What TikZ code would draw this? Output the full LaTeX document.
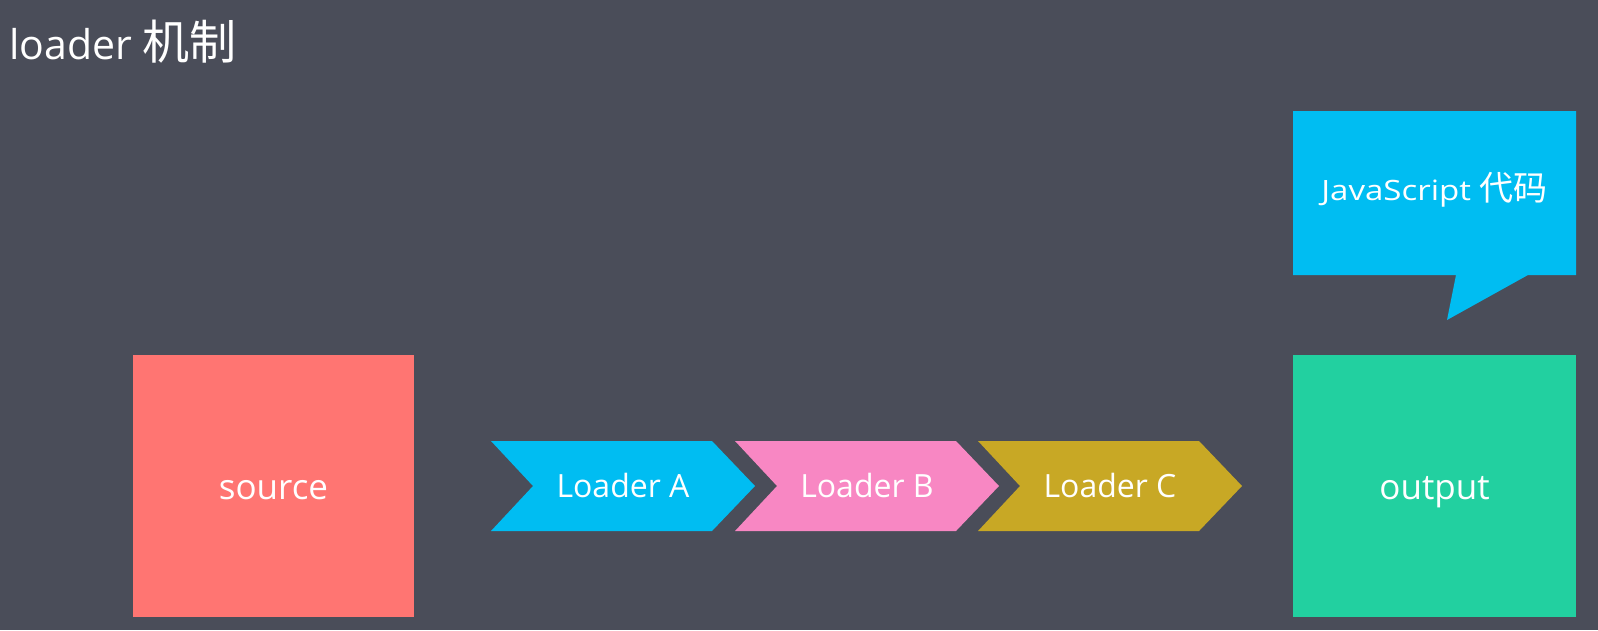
\documentclass[tikz,border=0pt]{standalone}
\usepackage{fontspec}
\setmainfont{Open Sans}
\newfontfamily\cjk{Noto Sans CJK SC}
\newfontfamily\jsfont[FakeStretch=1.18]{Open Sans}
\definecolor{bgcol}{RGB}{74,77,89}
\definecolor{srccol}{RGB}{255,117,114}
\definecolor{outcol}{RGB}{34,208,160}
\definecolor{bluecol}{RGB}{0,189,242}
\definecolor{pinkcol}{RGB}{248,135,195}
\definecolor{goldcol}{RGB}{200,168,37}
\begin{document}
\begin{tikzpicture}[x=1pt,y=-1pt,
  txt/.style={text=white, inner sep=0pt},
  bigbox/.style={inner sep=0pt, minimum width=283pt, minimum height=262pt},
  loadertxt/.style={txt, anchor=base, font=\fontsize{32}{38}\selectfont},
  boxtxt/.style={txt, anchor=base, font=\fontsize{35}{42}\selectfont}]
\useasboundingbox (0,0) rectangle (1598,630);
\fill[bgcol] (0,0) rectangle (1598,630);

% title
\node[txt, anchor=base west, font=\fontsize{41}{48}\selectfont] (title) at (9,59)
  {loader {\cjk\fontsize{47}{54}\selectfont 机制}};

% source and output boxes
\node[bigbox, fill=srccol, minimum width=281pt] (src) at (273.5,486) {};
\node[boxtxt] (srct) at ([yshift=-13pt]src.center) {source};
\node[bigbox, fill=outcol] (out) at (1434.5,486) {};
\node[boxtxt] (outt) at ([yshift=-13pt]out.center) {output};

% chevrons
\foreach \x/\col/\nm/\lab in {491/bluecol/la/A, 735/pinkcol/lb/B, 978/goldcol/lc/C}{
  \fill[\col] (\x,441) -- (\x+221,441) -- (\x+264,486) -- (\x+221,531)
     -- (\x,531) -- (\x+42,486) -- cycle;
  \coordinate (\nm c) at (\x+132,486);
  \node[loadertxt] (\nm) at ([yshift=-11.5pt]\nm c) {Loader \lab};
}

% speech bubble
\fill[bluecol] (1293,111) -- (1576,111) -- (1576,275) -- (1528,275)
  -- (1447,320) -- (1456,275) -- (1293,275) -- cycle;
\coordinate (bubc) at (1434.5,193);
\node[txt, anchor=base] (js) at ([yshift=-7pt]bubc)
  {\jsfont\fontsize{28}{34}\selectfont JavaScript {\cjk\fontsize{34}{40}\selectfont 代码}};
\end{tikzpicture}
\end{document}
